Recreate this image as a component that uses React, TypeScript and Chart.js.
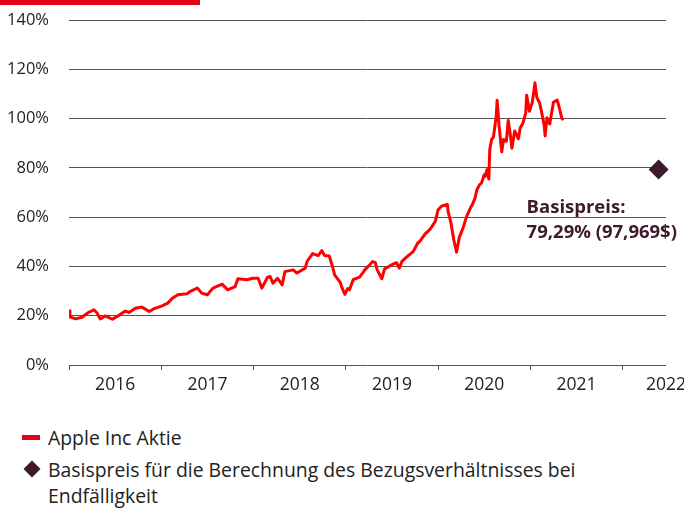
import React, { useEffect, useRef } from 'react';
import { Chart, registerables } from 'chart.js';

Chart.register(...registerables);

const FONT = "'Open Sans', 'Noto Sans', sans-serif";
const LINE_RED = '#FF0000';
const BRAND_RED = '#E3001B';
const MAROON = '#3D1A2C';
const GRID = '#555555';
const TEXT = '#222222';

const years = [2016, 2017, 2018, 2019, 2020, 2021, 2022];
const X_MIN = 2016;
const X_MAX = 2022.47;
const yTicks = [0, 20, 40, 60, 80, 100, 120, 140];

// time as decimal year
const priceTime = [
  2016.00, 2016.01, 2016.07, 2016.14, 2016.21, 2016.27, 2016.30, 2016.34, 2016.39, 2016.47,
  2016.53, 2016.61, 2016.65, 2016.72, 2016.79, 2016.87, 2016.93, 2017.01, 2017.07, 2017.12,
  2017.18, 2017.28, 2017.31, 2017.39, 2017.44, 2017.50, 2017.56, 2017.66, 2017.72, 2017.80,
  2017.83, 2017.93, 2017.99, 2018.05, 2018.09, 2018.15, 2018.18, 2018.21, 2018.26, 2018.31,
  2018.34, 2018.43, 2018.47, 2018.56, 2018.58, 2018.64, 2018.70, 2018.74, 2018.77, 2018.82,
  2018.85, 2018.88, 2018.94, 2018.96, 2018.99, 2019.02, 2019.04, 2019.08, 2019.15, 2019.21,
  2019.26, 2019.29, 2019.32, 2019.34, 2019.39, 2019.42, 2019.50, 2019.55, 2019.58, 2019.61,
  2019.67, 2019.73, 2019.78, 2019.80, 2019.86, 2019.91, 2019.97, 2020.00, 2020.04, 2020.10,
  2020.11, 2020.14, 2020.17, 2020.20, 2020.23, 2020.27, 2020.31, 2020.35, 2020.37, 2020.40,
  2020.42, 2020.45, 2020.47, 2020.50, 2020.51, 2020.53, 2020.55, 2020.56, 2020.58, 2020.60,
  2020.63, 2020.64, 2020.66, 2020.69, 2020.71, 2020.74, 2020.76, 2020.78, 2020.80, 2020.83,
  2020.87, 2020.89, 2020.92, 2020.95, 2020.96, 2020.99, 2021.02, 2021.03, 2021.05, 2021.07,
  2021.10, 2021.12, 2021.15, 2021.16, 2021.18, 2021.21, 2021.25, 2021.29, 2021.31, 2021.34,
  2021.36,
];

// Apple share, in % of reference
const pricePct = [
  22.0, 19.5, 18.7, 19.4, 21.3, 22.4, 21.3, 18.7, 19.9, 18.6,
  19.9, 21.9, 21.3, 23.0, 23.5, 21.7, 23.0, 24.0, 25.1, 27.1,
  28.5, 28.9, 29.8, 31.2, 29.1, 28.5, 31.2, 32.8, 30.5, 31.8,
  35.0, 34.6, 35.2, 35.2, 31.2, 35.5, 35.9, 33.2, 35.2, 32.5,
  37.9, 38.6, 37.3, 39.3, 42.0, 45.2, 44.4, 46.4, 44.4, 44.2,
  40.7, 36.5, 33.5, 31.2, 28.7, 31.0, 30.5, 34.6, 35.7, 38.8,
  40.7, 42.0, 41.5, 38.6, 35.0, 39.0, 40.7, 41.5, 39.3, 42.2,
  44.2, 46.0, 49.5, 50.1, 53.2, 54.9, 58.3, 63.0, 64.5, 65.2,
  62.0, 57.6, 50.8, 45.8, 51.8, 55.6, 60.3, 63.7, 65.0, 67.7,
  71.0, 73.2, 73.8, 77.2, 76.5, 79.3, 75.5, 87.4, 91.5, 92.5,
  100.9, 107.4, 97.5, 86.5, 91.5, 90.8, 99.2, 94.2, 88.0, 95.0,
  91.8, 96.2, 98.2, 102.3, 109.5, 103.0, 106.4, 109.0, 114.5, 108.5,
  106.4, 103.0, 97.2, 93.0, 100.3, 97.8, 106.6, 107.5, 105.0, 100.2,
  99.5,
];

const strikeTime = [2022.39];
const strikePct = [79.29];
const strikeText = ['Basispreis:', '79,29% (97,969$)'];
const seriesNames = [
  'Apple Inc Aktie',
  'Basispreis für die Berechnung des Bezugsverhältnisses bei Endfälligkeit',
];

const strikeNotePlugin = {
  id: 'strikeNote',
  afterDatasetsDraw(chart: any) {
    const { ctx, scales } = chart;
    const px = scales.x.getPixelForValue(strikeTime[0]);
    const py = scales.y.getPixelForValue(strikePct[0]);
    ctx.save();
    ctx.fillStyle = MAROON;
    ctx.font = `bold 18.5px ${FONT}`;
    ctx.textAlign = 'left';
    ctx.textBaseline = 'alphabetic';
    ctx.fillText(strikeText[0], px - 132, py + 43);
    ctx.fillText(strikeText[1], px - 132, py + 68);
    ctx.restore();
  },
};

export default function App() {
  const ref = useRef<HTMLCanvasElement | null>(null);

  useEffect(() => {
    if (!ref.current) return;
    const chart = new Chart(ref.current, {
      type: 'line',
      data: {
        datasets: [
          {
            label: seriesNames[0],
            data: priceTime.map((t, i) => ({ x: t, y: pricePct[i] })),
            borderColor: LINE_RED,
            backgroundColor: LINE_RED,
            borderWidth: 3,
            pointRadius: 0,
            tension: 0,
            borderJoinStyle: 'round',
          },
          {
            label: seriesNames[1],
            data: strikeTime.map((t, i) => ({ x: t, y: strikePct[i] })),
            showLine: false,
            pointStyle: 'rectRot',
            pointRadius: 10,
            pointBackgroundColor: MAROON,
            pointBorderColor: MAROON,
            pointBorderWidth: 0,
            clip: false,
          } as any,
        ],
      },
      options: {
        responsive: false,
        animation: false,
        devicePixelRatio: 1,
        layout: { padding: { left: 7, right: 18, top: 20, bottom: 0 } },
        plugins: { legend: { display: false }, tooltip: { enabled: false } },
        scales: {
          x: {
            type: 'linear',
            min: X_MIN,
            max: X_MAX,
            afterBuildTicks: (scale: any) => {
              const t: any[] = [];
              years.forEach((y) => {
                t.push({ value: y });
                t.push({ value: Math.min(y + 0.5, X_MAX) });
              });
              scale.ticks = t.filter((k) => k.value <= X_MAX);
            },
            afterFit: (scale: any) => {
              scale.height = 35;
              scale.paddingLeft = 0;
              scale.paddingRight = 0;
            },
            ticks: {
              autoSkip: false,
              maxRotation: 0,
              minRotation: 0,
              padding: 5,
              color: TEXT,
              font: { family: FONT, size: 17.5 },
              callback: (v: any) => (Number.isInteger(v) ? '' : String(Math.floor(v))),
            },
            grid: {
              drawOnChartArea: false,
              drawTicks: true,
              tickLength: 5,
              color: (c: any) => (c.tick && Number.isInteger(c.tick.value) ? GRID : 'rgba(0,0,0,0)'),
            },
            border: { display: false },
          },
          y: {
            min: 0,
            max: 140,
            afterBuildTicks: (scale: any) => {
              scale.ticks = yTicks.map((v) => ({ value: v }));
            },
            afterFit: (scale: any) => {
              scale.width = 62;
              scale.paddingTop = 0;
              scale.paddingBottom = 0;
            },
            ticks: {
              padding: 20,
              color: TEXT,
              font: { family: FONT, size: 16.5 },
              callback: (v: any) => `${v}%`,
            },
            grid: { color: GRID, lineWidth: 1, drawTicks: false },
            border: { display: false },
          },
        },
      } as any,
      plugins: [strikeNotePlugin],
    });
    return () => chart.destroy();
  }, []);

  return (
    <div
      style={{
        position: 'fixed',
        left: 0,
        top: 0,
        width: 684,
        height: 510,
        background: '#ffffff',
        fontFamily: FONT,
        overflow: 'hidden',
      }}
    >
      <canvas ref={ref} width={684} height={400} style={{ position: 'absolute', left: 0, top: 0 }} />
      <div style={{ position: 'absolute', left: 0, top: 0, width: 200, height: 5, background: BRAND_RED }} />
      <div style={{ position: 'absolute', left: 22, top: 435, width: 18, height: 5, background: BRAND_RED }} />
      <div
        style={{
          position: 'absolute',
          left: 48,
          top: 426,
          fontSize: 19.4,
          lineHeight: '24px',
          color: TEXT,
          whiteSpace: 'nowrap',
        }}
      >
        {seriesNames[0]}
      </div>
      <div
        style={{
          position: 'absolute',
          left: 26,
          top: 463,
          width: 12,
          height: 12,
          background: MAROON,
          transform: 'rotate(45deg)',
        }}
      />
      <div
        style={{
          position: 'absolute',
          left: 48,
          top: 457,
          width: 570,
          fontSize: 19.4,
          lineHeight: '26px',
          color: TEXT,
        }}
      >
        {seriesNames[1]}
      </div>
    </div>
  );
}
